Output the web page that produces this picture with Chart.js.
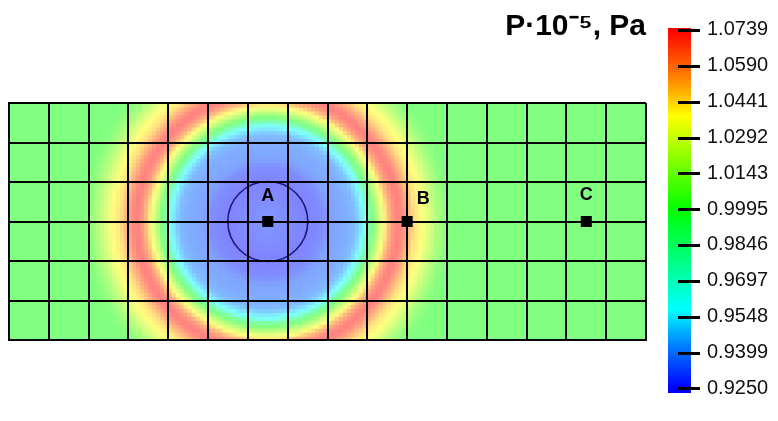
<!DOCTYPE html>
<html>
<head>
<meta charset="utf-8">
<script src="https://cdn.jsdelivr.net/npm/chart.js@4/dist/chart.umd.min.js"></script>
<style>
  html, body { margin: 0; padding: 0; background: #fff; }
  #wrap { position: relative; width: 778px; height: 421px; overflow: hidden; }
  #field { position: absolute; left: 0; top: 0; }
  #legendBar { position: absolute; left: 600px; top: 0; }
</style>
</head>
<body>
<div id="wrap">
  <canvas id="field" width="778" height="421"></canvas>
  <canvas id="legendBar" width="178" height="421"></canvas>
</div>
<script>
// ---- data -------------------------------------------------------------
// Colour scale ticks, pressure in units of 10^5 Pa
const scaleTicks  = [1.0739, 1.0590, 1.0441, 1.0292, 1.0143, 0.9995, 0.9846, 0.9697, 0.9548, 0.9399, 0.9250];
const scaleLabels = ['1.0739', '1.0590', '1.0441', '1.0292', '1.0143', '0.9995', '0.9846', '0.9697', '0.9548', '0.9399', '0.9250'];

// Computational domain: 16 x 6 cells
const domainCols = 16;
const domainRows = 6;

// Radial pressure profile of the wave centred on probe A (distance in cells)
const profileRadius   = [0.00, 0.50, 1.00, 1.40, 1.60, 2.00, 2.20, 2.35, 2.45, 2.55, 2.65, 2.75, 2.85, 2.95, 3.05, 3.17, 3.30, 3.42, 3.55, 3.70, 3.90, 4.10, 4.30, 4.50, 4.70];
const profilePressure = [0.932, 0.929, 0.926, 0.929, 0.935, 0.938, 0.942, 0.952, 0.962, 0.985, 1.000, 1.015, 1.030, 1.042, 1.056, 1.068, 1.0739, 1.068, 1.057, 1.045, 1.038, 1.025, 1.012, 1.003, 0.9995];

// Probe points
const probeNames = ['A', 'B', 'C'];
const probeX     = [6.5, 10.0, 14.5];
const probeY     = [3.0, 3.0, 3.0];

// ---- styling ----------------------------------------------------------
const FONT = '"Liberation Sans", Arial, sans-serif';
const pMin = 0.9250, pMax = 1.0739;
const sampleStep = 0.1;              // field sampling step, cells
const probeLabelOffset = [[0, -25], [16, -22], [0, -26]];
const circleRadiusPx = 40;
// jet-like colour map: position along scale -> rgb
const cmapStops = [
  [0.00, [0, 0, 255]],
  [0.12, [0, 128, 255]],
  [0.22, [0, 255, 255]],
  [0.50, [0, 255, 0]],
  [0.76, [255, 255, 0]],
  [0.87, [255, 128, 0]],
  [1.00, [255, 0, 0]]
];

function cmap(s) {
  s = Math.max(0, Math.min(1, s));
  for (let i = 1; i < cmapStops.length; i++) {
    const [s1, c1] = cmapStops[i];
    const [s0, c0] = cmapStops[i - 1];
    if (s <= s1) {
      const t = (s - s0) / (s1 - s0);
      return c0.map((v, k) => v + (c1[k] - v) * t);
    }
  }
  return cmapStops[cmapStops.length - 1][1];
}
// field is shown semi-transparent over white
function fieldColor(p) {
  const c = cmap((p - pMin) / (pMax - pMin));
  return 'rgb(' + c.map(v => Math.round(v * 0.5 + 127.5)).join(',') + ')';
}
function profileAt(r) {
  const n = profileRadius.length;
  if (r >= profileRadius[n - 1]) return profilePressure[n - 1];
  for (let i = 1; i < n; i++) {
    if (r <= profileRadius[i]) {
      const t = (r - profileRadius[i - 1]) / (profileRadius[i] - profileRadius[i - 1]);
      return profilePressure[i - 1] + (profilePressure[i] - profilePressure[i - 1]) * t;
    }
  }
  return profilePressure[n - 1];
}

// ---- field samples ----------------------------------------------------
const fieldPoints = [];
const fieldColors = [];
const nx = Math.round(domainCols / sampleStep);
const ny = Math.round(domainRows / sampleStep);
for (let j = 0; j < ny; j++) {
  for (let i = 0; i < nx; i++) {
    const x = (i + 0.5) * sampleStep;
    const y = (j + 0.5) * sampleStep;
    const r = Math.hypot(x - probeX[0], y - probeY[0]);
    fieldPoints.push({ x, y });
    fieldColors.push(fieldColor(profileAt(r)));
  }
}

const probeLabels = {
  id: 'probeLabels',
  afterDraw(chart) {
    const { ctx, scales: { x, y } } = chart;
    ctx.save();
    ctx.fillStyle = '#000';
    ctx.font = 'bold 18px ' + FONT;
    ctx.textAlign = 'center';
    ctx.textBaseline = 'middle';
    probeNames.forEach((name, i) => {
      const px = x.getPixelForValue(probeX[i]) + probeLabelOffset[i][0];
      const py = y.getPixelForValue(probeY[i]) + probeLabelOffset[i][1];
      ctx.fillText(name, px, py);
    });
    ctx.restore();
  }
};

new Chart(document.getElementById('field'), {
  type: 'scatter',
  data: {
    datasets: [
      {
        label: 'probes',
        data: probeX.map((x, i) => ({ x, y: probeY[i] })),
        pointStyle: 'rect',
        pointRadius: 7.8,
        pointBorderWidth: 0,
        backgroundColor: '#000',
        order: 1
      },
      {
        label: 'circle',
        data: [{ x: probeX[0], y: probeY[0] }],
        pointStyle: 'circle',
        pointRadius: circleRadiusPx,
        backgroundColor: 'rgba(0,0,0,0)',
        borderColor: '#1a1a72',
        pointBorderWidth: 1.6,
        order: 2
      },
      {
        label: 'pressure',
        data: fieldPoints,
        pointStyle: 'rect',
        pointRadius: 3.6,
        pointBorderWidth: 0,
        backgroundColor: fieldColors,
        clip: 0,
        order: 3
      }
    ]
  },
  options: {
    responsive: false,
    devicePixelRatio: 1,
    animation: false,
    events: [],
    layout: { autoPadding: false, padding: { left: 9, right: 132, top: 0, bottom: 81 } },
    plugins: {
      legend: { display: false },
      tooltip: { enabled: false },
      title: {
        display: true,
        text: 'P·10⁻⁵, Pa',
        align: 'end',
        color: '#000',
        font: { family: FONT, size: 30, weight: 'bold' },
        padding: { top: 9, bottom: 58 }
      }
    },
    scales: {
      x: {
        type: 'linear', min: 0, max: domainCols,
        afterFit(s) { s.height = 0; },
        ticks: { display: false, stepSize: 1 },
        grid: { color: '#000', lineWidth: 2, drawTicks: false, z: 1 },
        border: { color: '#000', width: 2, z: 2 }
      },
      y: {
        type: 'linear', min: 0, max: domainRows,
        afterFit(s) { s.width = 0; },
        ticks: { display: false, stepSize: 1 },
        grid: { color: '#000', lineWidth: 2, drawTicks: false, z: 1 },
        border: { color: '#000', width: 2, z: 2 }
      }
    }
  },
  plugins: [probeLabels]
});

// ---- colour bar -------------------------------------------------------
const barTickMarks = {
  id: 'barTickMarks',
  afterDatasetsDraw(chart) {
    const { ctx, chartArea, scales: { y } } = chart;
    ctx.save();
    ctx.strokeStyle = '#000';
    ctx.lineWidth = 3;
    scaleTicks.forEach(v => {
      const py = Math.round(y.getPixelForValue(v)) + 0.5;
      ctx.beginPath();
      ctx.moveTo(chartArea.left + 10, py);
      ctx.lineTo(chartArea.right + 9, py);
      ctx.stroke();
    });
    ctx.restore();
  }
};

new Chart(document.getElementById('legendBar'), {
  type: 'bar',
  data: {
    labels: [''],
    datasets: [{
      data: [[0.9231, 1.0747]],
      barPercentage: 1,
      categoryPercentage: 1,
      borderWidth: 0,
      backgroundColor(ctx) {
        const chart = ctx.chart;
        const area = chart.chartArea;
        if (!area) return '#888';
        const y = chart.scales.y;
        const y0 = y.getPixelForValue(pMin);
        const y1 = y.getPixelForValue(pMax);
        const g = chart.ctx.createLinearGradient(0, y0, 0, y1);
        cmapStops.forEach(([s, c]) => g.addColorStop(s, 'rgb(' + c.join(',') + ')'));
        return g;
      }
    }]
  },
  options: {
    responsive: false,
    devicePixelRatio: 1,
    animation: false,
    events: [],
    layout: { padding: { left: 68, right: 0, top: 18, bottom: 13 } },
    plugins: { legend: { display: false }, tooltip: { enabled: false } },
    scales: {
      x: { display: false },
      y: {
        position: 'right',
        min: 0.9231,
        max: 1.0747,
        afterBuildTicks(scale) { scale.ticks = scaleTicks.map(v => ({ value: v })); },
        afterFit(scale) { scale.width = 87; },
        ticks: {
          padding: 16,
          color: '#111',
          font: { family: FONT, size: 20 },
          callback: (v, i) => scaleLabels[i]
        },
        grid: { display: false, drawTicks: false },
        border: { display: false }
      }
    }
  },
  plugins: [barTickMarks]
});
</script>
</body>
</html>
